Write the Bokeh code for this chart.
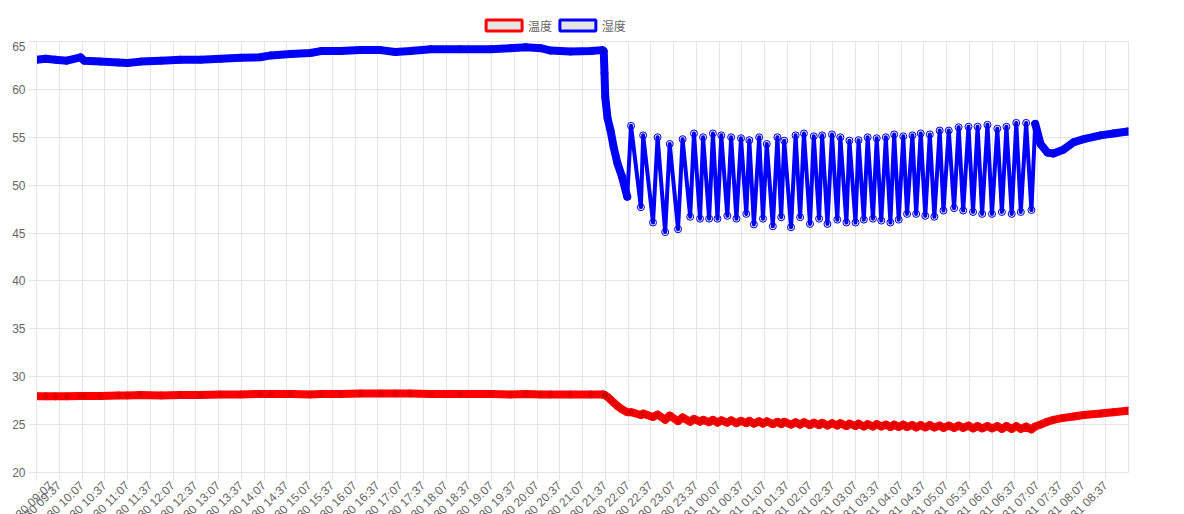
from bokeh.plotting import figure
from bokeh.models import FixedTicker, Range1d
from bokeh.layouts import column
from bokeh.core.properties import value
from bokeh.embed import file_html
from bokeh.resources import INLINE

# time of each reading, minutes after 10-30 09:07
minutes = [
    0, 12, 25, 40, 58, 63, 84, 108, 120, 137, 164, 190, 216, 243, 269, 295, 309, 335,
    361, 375, 401, 427, 454, 473, 493, 520, 559, 599, 625, 645, 665, 678, 704, 731, 746,
    748, 749, 750, 753, 757, 761, 766, 772, 779,
    784, 797, 800, 813, 819, 829, 835, 846, 852, 862, 867, 875, 879, 887, 892, 898,
    903, 911, 916, 923, 929, 936, 940, 946, 953, 958, 963, 971, 977, 982, 986, 995,
    1001, 1007, 1012, 1020, 1025, 1032, 1036, 1043, 1049, 1056, 1060, 1068, 1072, 1080,
    1084, 1091, 1096, 1103, 1108, 1114, 1120, 1126, 1131, 1137, 1143, 1148, 1155, 1160,
    1166, 1172, 1178, 1184, 1191, 1196, 1203, 1210, 1216, 1222, 1229, 1235, 1241, 1247,
    1254, 1260, 1267, 1273, 1279, 1286, 1292, 1298, 1305, 1312, 1317,
    1324, 1333, 1341, 1354, 1368, 1381, 1403, 1420, 1439,
]

humidity = [
    63.1, 63.2, 63.1, 63.0, 63.35, 63.0, 62.9, 62.8, 62.75, 62.9, 63.0, 63.1, 63.1, 63.2,
    63.3, 63.35, 63.55, 63.7, 63.8, 64.0, 64.0, 64.1, 64.1, 63.9, 64.0, 64.2, 64.2, 64.2,
    64.3, 64.4, 64.3, 64.05, 63.95, 64.0, 64.1,
    64.0, 61.7, 59.2, 57.0, 55.7, 54.0, 52.3, 50.9, 48.8,
    56.2, 47.7, 55.2, 46.1, 55.0, 45.1, 54.3, 45.4, 54.8, 46.7, 55.4, 46.5, 55.0, 46.5,
    55.4, 46.5, 55.2, 46.8, 55.0, 46.5, 54.9, 47.0, 54.7, 45.9, 55.0, 46.5, 54.3, 45.7,
    55.0, 46.65, 54.65, 45.6, 55.2, 46.65, 55.4, 45.95, 55.1, 46.5, 55.2, 45.95, 55.3,
    46.4, 55.0, 46.1, 54.65, 46.1, 54.7, 46.4, 55.0, 46.5, 54.9, 46.3, 55.0, 46.1, 55.3,
    46.4, 55.1, 47.0, 55.2, 47.0, 55.4, 46.8, 55.3, 46.7, 55.7, 47.35, 55.7, 47.6, 56.05,
    47.35, 56.1, 47.2, 56.1, 47.0, 56.3, 47.0, 55.9, 47.2, 56.1, 47.0, 56.5, 47.2, 56.5,
    47.4, 56.4,
    54.3, 53.4, 53.3, 53.7, 54.5, 54.8, 55.2, 55.4, 55.6,
]

temperature = [
    27.95, 27.95, 27.95, 27.95, 28.0, 28.0, 28.0, 28.05, 28.05, 28.1, 28.05, 28.1, 28.1,
    28.15, 28.15, 28.2, 28.2, 28.2, 28.15, 28.2, 28.2, 28.25, 28.25, 28.25, 28.25, 28.2,
    28.2, 28.2, 28.15, 28.2, 28.15, 28.15, 28.15, 28.15, 28.15,
    28.15, 28.1, 28.05, 27.9, 27.6, 27.3, 26.95, 26.6, 26.3,
    26.3, 26.0, 26.15, 25.8, 26.05, 25.5, 25.95, 25.35, 25.75, 25.3, 25.6, 25.3, 25.5,
    25.25, 25.5, 25.2, 25.45, 25.2, 25.45, 25.15, 25.4, 25.15, 25.4, 25.1, 25.35, 25.1,
    25.35, 25.05, 25.3, 25.05, 25.3, 25.0, 25.25, 25.0, 25.25, 24.95, 25.2, 24.95, 25.2,
    24.9, 25.15, 24.9, 25.15, 24.85, 25.1, 24.85, 25.1, 24.8, 25.05, 24.8, 25.05, 24.8,
    25.0, 24.75, 25.0, 24.75, 25.0, 24.75, 24.95, 24.7, 24.95, 24.7, 24.95, 24.7, 24.9,
    24.65, 24.9, 24.65, 24.9, 24.65, 24.9, 24.6, 24.85, 24.6, 24.85, 24.6, 24.85, 24.55,
    24.85, 24.55, 24.85, 24.55, 24.8, 24.5, 24.8,
    25.0, 25.3, 25.5, 25.7, 25.85, 26.0, 26.15, 26.3, 26.45,
]

tick_minutes = list(range(0, 1411, 30))
tick_labels = [
    "10-30 09:07", "10-30 09:37", "10-30 10:07", "10-30 10:37", "10-30 11:07", "10-30 11:37",
    "10-30 12:07", "10-30 12:37", "10-30 13:07", "10-30 13:37", "10-30 14:07", "10-30 14:37",
    "10-30 15:07", "10-30 15:37", "10-30 16:07", "10-30 16:37", "10-30 17:07", "10-30 17:37",
    "10-30 18:07", "10-30 18:37", "10-30 19:07", "10-30 19:37", "10-30 20:07", "10-30 20:37",
    "10-30 21:07", "10-30 21:37", "10-30 22:07", "10-30 22:37", "10-30 23:07", "10-30 23:37",
    "10-31 00:07", "10-31 00:37", "10-31 01:07", "10-31 01:37", "10-31 02:07", "10-31 02:37",
    "10-31 03:07", "10-31 03:37", "10-31 04:07", "10-31 04:37", "10-31 05:07", "10-31 05:37",
    "10-31 06:07", "10-31 06:37", "10-31 07:07", "10-31 07:37", "10-31 08:07", "10-31 08:37",
]
y_ticks = [20, 25, 30, 35, 40, 45, 50, 55, 60, 65]
series_names = ["温度", "湿度"]
series_colors = ["red", "blue"]

GRID = "#e5e5e5"
TXT = "#666666"
FONT = "Liberation Sans"

# ---- legend strip (pixel-space figure above the chart) ----
leg = figure(width=1184, height=41, x_range=Range1d(0, 1184), y_range=Range1d(41, 0),
             x_axis_type=None, y_axis_type=None, output_backend="svg", toolbar_location=None,
             min_border=0)
leg.outline_line_color = None
leg.grid.visible = False
leg.rect(x=[507, 587], y=[25, 25], width=39, height=11, fill_color="#e6e6e6",
         line_color=series_colors, line_width=3)
leg.text(x=[533, 613], y=[25, 25], text=series_names, text_color=TXT,
         text_font=value("Noto Sans CJK SC"), text_font_size=value("12px"),
         text_align="left", text_baseline="middle")

# ---- chart ----
p = figure(frame_width=1092, frame_height=431, x_range=(0, 1440), y_range=(20, 65),
           output_backend="svg", toolbar_location=None,
           min_border_left=36, min_border_right=56, min_border_top=0, min_border_bottom=0)
p.outline_line_color = GRID
p.background_fill_color = "white"

p.xgrid.grid_line_color = GRID
p.ygrid.grid_line_color = GRID
p.xaxis.ticker = FixedTicker(ticks=tick_minutes)
p.xaxis.major_label_overrides = {m: lab for m, lab in zip(tick_minutes, tick_labels)}
p.xaxis.major_label_orientation = 0.785
p.yaxis.ticker = FixedTicker(ticks=y_ticks)
for ax in (p.xaxis, p.yaxis):
    ax.axis_line_color = GRID
    ax.major_tick_line_color = GRID
    ax.major_tick_out = 8
    ax.major_tick_in = 0
    ax.minor_tick_line_color = None
    ax.major_label_text_color = TXT
    ax.major_label_text_font = FONT
    ax.major_label_text_font_size = "12px"
    ax.major_label_standoff = 3

# temperature
p.line(minutes, temperature, line_color=series_colors[0], line_width=8, line_join="round", line_cap="round")
p.scatter(minutes, temperature, marker="circle", size=7, line_color=series_colors[0], line_width=1,
          fill_color="black", fill_alpha=0.1)

# humidity
i_osc0 = minutes.index(779)
i_osc1 = minutes.index(1317)
p.line(minutes, humidity, line_color=series_colors[1], line_width=4, line_join="round")
p.line(minutes[:i_osc0 + 1], humidity[:i_osc0 + 1], line_color=series_colors[1], line_width=8,
       line_join="round", line_cap="round")
p.line(minutes[i_osc1:], humidity[i_osc1:], line_color=series_colors[1], line_width=8,
       line_join="round", line_cap="round")
p.scatter(minutes, humidity, marker="circle", size=7, line_color=series_colors[1], line_width=1,
          fill_color="black", fill_alpha=0.1)

layout = column(leg, p, spacing=0)
open("out.html", "w").write(file_html(layout, INLINE))
